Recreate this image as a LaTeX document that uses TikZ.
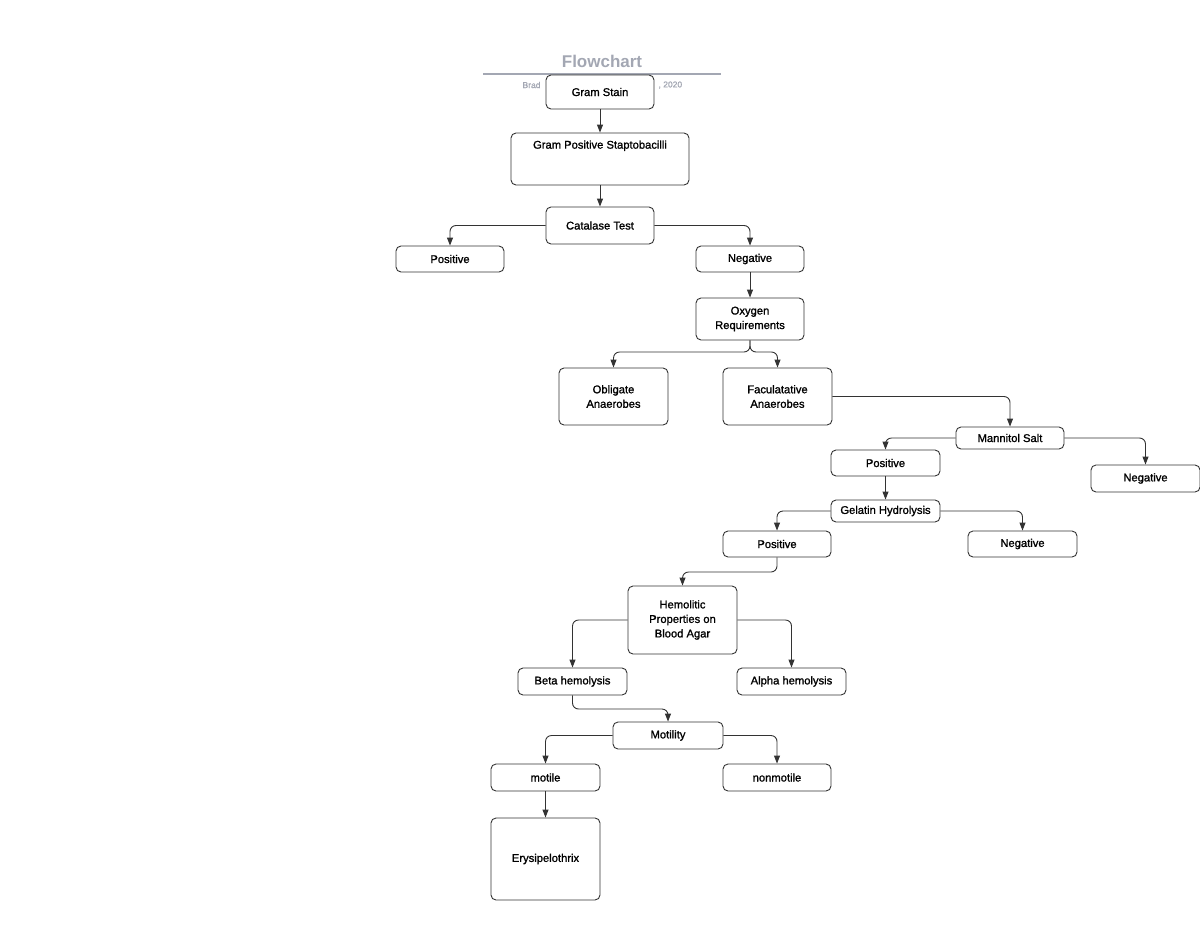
\documentclass[tikz,border=0pt]{standalone}
\usepackage{fontspec}
\setmainfont{Liberation Sans}
\newfontfamily\boxfont[FakeBold=1.2]{Liberation Sans}
\usetikzlibrary{arrows.meta}
\definecolor{ln}{HTML}{333333}
\definecolor{ttl}{HTML}{A3A7B3}
\begin{document}
\begin{tikzpicture}[x=1pt,y=-1pt,
  box/.style={draw=ln, line width=0.9pt, rounded corners=5pt, fill=white, inner sep=0pt,
    align=center, font=\boxfont\fontsize{11.2}{14.5}\selectfont, text=black},
  conn/.style={draw=ln, line width=0.9pt, rounded corners=6pt, -{Triangle[length=8pt,width=6pt]}},
]
\useasboundingbox (0,0) rectangle (1200,927);
% title
\node[font=\bfseries\fontsize{17}{19}\selectfont, text=ttl] (title) at (602,61) {Flowchart};
\draw[ttl, line width=1.2pt] (483,74) -- (721,74);
\node[font=\boxfont\fontsize{8.5}{10}\selectfont, text=ttl, anchor=west] (subl) at (519,85) {Brad};
\node[font=\boxfont\fontsize{8.5}{10}\selectfont, text=ttl, anchor=west] (subr) at (655,85) {, 2020};

\node[box, minimum width=108pt, minimum height=34pt] (gs) at (600,92) {Gram Stain};
\node[box, minimum width=178pt, minimum height=52pt] (gp) at (600,159) {};
\node[font=\boxfont\fontsize{11.2}{13}\selectfont, anchor=north] (gpt) at (600,137) {Gram Positive Staptobacilli};
\node[box, minimum width=108pt, minimum height=37pt] (cat) at (600,225.5) {Catalase Test};
\node[box, minimum width=108pt, minimum height=26pt] (pos1) at (450,259) {Positive};
\node[box, minimum width=108pt, minimum height=26pt] (neg1) at (750,259) {Negative};
\node[box, minimum width=108pt, minimum height=42pt] (oxy) at (750,319) {Oxygen\\Requirements};
\node[box, minimum width=109pt, minimum height=57pt] (obl) at (613.5,396.5) {Obligate\\Anaerobes};
\node[box, minimum width=109pt, minimum height=57pt] (fac) at (777.5,396.5) {Faculatative\\Anaerobes};
\node[box, minimum width=108pt, minimum height=22pt] (man) at (1010,438) {Mannitol Salt};
\node[box, minimum width=109pt, minimum height=26pt] (pos2) at (885.5,463) {Positive};
\node[box, minimum width=109pt, minimum height=27pt] (neg2) at (1145.5,478.5) {Negative};
\node[box, minimum width=109pt, minimum height=22pt] (gel) at (885.5,511) {Gelatin Hydrolysis};
\node[box, minimum width=108pt, minimum height=26pt] (pos3) at (777,544) {Positive};
\node[box, minimum width=109pt, minimum height=26pt] (neg3) at (1022.5,544) {Negative};
\node[box, minimum width=109pt, minimum height=68pt] (hem) at (682.5,620) {Hemolitic\\Properties on\\Blood Agar};
\node[box, minimum width=109pt, minimum height=27pt] (beta) at (572.5,681.5) {Beta hemolysis};
\node[box, minimum width=109pt, minimum height=27pt] (alpha) at (791.5,681.5) {Alpha hemolysis};
\node[box, minimum width=110pt, minimum height=27pt] (mot) at (668,735.5) {Motility};
\node[box, minimum width=109pt, minimum height=27pt] (motile) at (545.5,777.5) {motile};
\node[box, minimum width=108pt, minimum height=27pt] (nonm) at (777,777.5) {nonmotile};
\node[box, minimum width=109pt, minimum height=82pt] (ery) at (545.5,859) {Erysipelothrix};

\coordinate (oxyj) at (750,352);
\coordinate (p3j) at (777,572);
\coordinate (bj) at (572.5,709);

\draw[conn] (gs) -- (gp);
\draw[conn] (gp) -- (cat);
\draw[conn] (cat.west) -| (pos1.north);
\draw[conn] (cat.east) -| (neg1.north);
\draw[conn] (neg1) -- (oxy);
\draw[conn] (oxy.south) -- (oxyj) -| (obl.north);
\draw[conn] (oxy.south) -- (oxyj) -| (fac.north);
\draw[conn] (fac.east) -| (man.north);
\draw[conn] (man.west) -| (pos2.north);
\draw[conn] (man.east) -| (neg2.north);
\draw[conn] (pos2) -- (gel);
\draw[conn] (gel.west) -| (pos3.north);
\draw[conn] (gel.east) -| (neg3.north);
\draw[conn] (pos3.south) -- (p3j) -| (hem.north);
\draw[conn] (hem.west) -| (beta.north);
\draw[conn] (hem.east) -| (alpha.north);
\draw[conn] (beta.south) -- (bj) -| (mot.north);
\draw[conn] (mot.west) -| (motile.north);
\draw[conn] (mot.east) -| (nonm.north);
\draw[conn] (motile) -- (ery);
\end{tikzpicture}
\end{document}
